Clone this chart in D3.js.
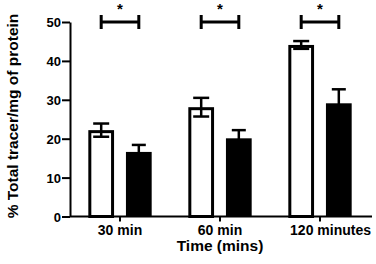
<!DOCTYPE html>
<html><head><meta charset="utf-8">
<script src="https://cdn.jsdelivr.net/npm/d3@7"></script>
<style>
html,body{margin:0;padding:0;background:#fff;}
svg text{font-family:"Liberation Sans",Arial,sans-serif;font-weight:bold;fill:#000;}
</style></head>
<body><svg id="c" width="376" height="264"></svg>
<script>
const categories = ["30 min", "60 min", "120 minutes"];
const series = ["open", "filled"];
const openValues = [22.2, 28.1, 44.1];
const openErrors = [1.7, 2.4, 1.0];
const filledValues = [16.6, 20.1, 29.1];
const filledErrors = [1.8, 2.1, 3.6];
const yTicks = [0, 10, 20, 30, 40, 50];
const sigLevel = [50, 50, 50];
const sigMarks = ["*", "*", "*"];
const yTitle = "% Total tracer/mg of protein";
const xTitle = "Time (mins)";

const svg = d3.select("#c");
const mLeft = 70, mRight = 370, mTop = 22, mBottom = 216.5;
const y = d3.scaleLinear().domain([0, 50]).range([mBottom, mTop]);
const x = d3.scaleBand().domain(categories).range([mLeft, mRight]).padding(0);
const xs = d3.scaleBand().domain(series).range([0, x.bandwidth()]).paddingInner(0.316).paddingOuter(0.487);
const bw = xs.bandwidth();

const data = categories.map((c, i) => [
  {c, s: "open", v: openValues[i], e: openErrors[i]},
  {c, s: "filled", v: filledValues[i], e: filledErrors[i]}
]).flat();

// bars
const sw = 3;
svg.append("g").selectAll("rect").data(data).join("rect")
  .attr("x", d => x(d.c) + xs(d.s) + (d.s === "open" ? sw/2 : 0))
  .attr("width", d => bw - (d.s === "open" ? sw : 0))
  .attr("y", d => y(d.v) + (d.s === "open" ? sw/2 : 0))
  .attr("height", d => y(0) - y(d.v) - (d.s === "open" ? sw/2 : 0))
  .attr("fill", d => d.s === "open" ? "#fff" : "#000")
  .attr("stroke", d => d.s === "open" ? "#000" : "none")
  .attr("stroke-width", sw);

// error bars
const eg = svg.append("g").attr("stroke", "#000").attr("stroke-width", 2.5);
data.forEach(d => {
  const cx = x(d.c) + xs(d.s) + bw / 2;
  const capW = d.s === "open" ? 16 : 14;
  eg.append("line").attr("x1", cx).attr("x2", cx).attr("y1", y(d.v + d.e)).attr("y2", y(d.v - d.e));
  eg.append("line").attr("x1", cx - capW/2).attr("x2", cx + capW/2).attr("y1", y(d.v + d.e)).attr("y2", y(d.v + d.e));
  eg.append("line").attr("x1", cx - capW/2).attr("x2", cx + capW/2).attr("y1", y(d.v - d.e)).attr("y2", y(d.v - d.e));
});

// significance brackets
const sg = svg.append("g");
categories.forEach((c, i) => {
  const x1 = x(c) + xs("open") + bw / 2;
  const x2 = x(c) + xs("filled") + bw / 2;
  const yy = y(sigLevel[i]);
  sg.append("path").attr("d", `M${x1},${yy}H${x2}M${x1},${yy-7}V${yy+7}M${x2},${yy-7}V${yy+7}`)
    .attr("stroke", "#000").attr("stroke-width", 3).attr("fill", "none");
  sg.append("text").attr("x", (x1 + x2) / 2).attr("y", yy - 8.5).attr("text-anchor", "middle")
    .style("font-size", "15px").text(sigMarks[i]);
});

// y axis
const ya = svg.append("g").attr("transform", `translate(${mLeft},0)`)
  .call(d3.axisLeft(y).tickValues(yTicks).tickSize(8).tickSizeOuter(0).tickPadding(1));
ya.select(".domain").attr("stroke", "#000").attr("stroke-width", 2);
ya.selectAll(".tick line").attr("stroke", "#000").attr("stroke-width", 2);
ya.selectAll(".tick text").style("font-size", "13px").attr("dy", "0.36em");

// x axis
const xa = svg.append("g").attr("transform", `translate(0,${mBottom})`)
  .call(d3.axisBottom(x).tickSize(5).tickSizeOuter(0).tickPadding(3.5));
xa.select(".domain").attr("d", `M${mLeft},0H${mRight + 2}`).attr("stroke", "#000").attr("stroke-width", 2);
xa.selectAll(".tick line").attr("stroke", "#000").attr("stroke-width", 2);
xa.selectAll(".tick text").style("font-size", "14px").attr("dy", "0.71em");
// keep last label inside the axis extent
xa.selectAll(".tick").filter((d, i) => i === categories.length - 1).select("text")
  .attr("text-anchor", "end").attr("x", mRight + 1 - x(categories[categories.length - 1]) - x.bandwidth() / 2);

// titles
svg.append("text").attr("x", (mLeft + mRight) / 2).attr("y", 251).attr("text-anchor", "middle")
  .style("font-size", "15.5px").text(xTitle);
svg.append("text").attr("transform", "translate(18,116) rotate(-90)").attr("text-anchor", "middle")
  .style("font-size", "15.5px").text(yTitle);
</script></body></html>
